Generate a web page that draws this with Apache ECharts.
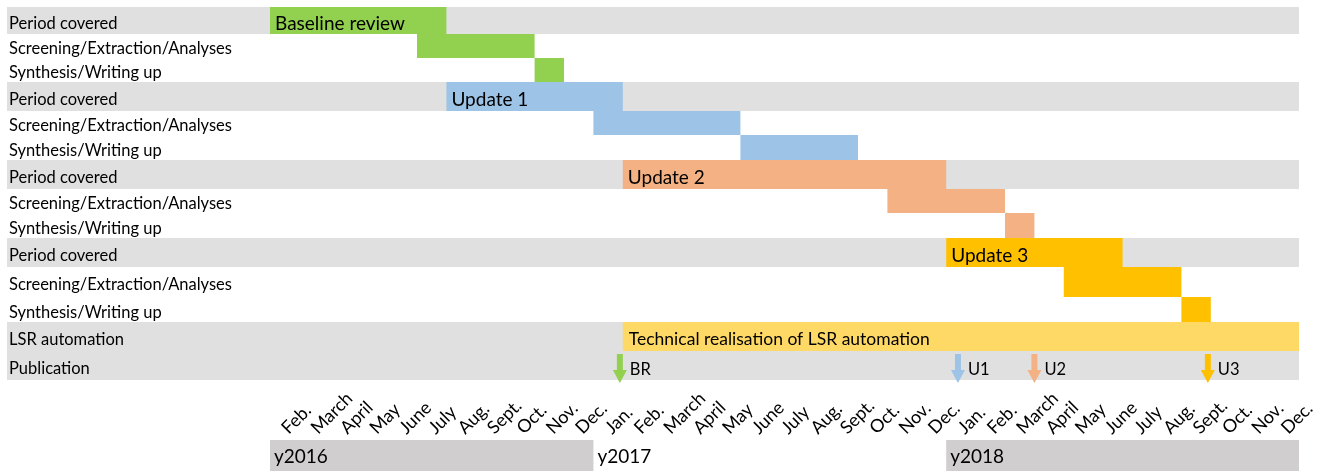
<!DOCTYPE html>
<html>
<head>
<meta charset="utf-8">
<script src="https://cdn.jsdelivr.net/npm/echarts@6/dist/echarts.min.js"></script>
<style>
html,body{margin:0;padding:0;background:#fff;}
#chart{width:1327px;height:472px;}
</style>
</head>
<body>
<div id="chart"></div>
<script>
// ---------- DATA ----------
const rowLabels = ['Period covered','Screening/Extraction/Analyses','Synthesis/Writing up',
  'Period covered','Screening/Extraction/Analyses','Synthesis/Writing up',
  'Period covered','Screening/Extraction/Analyses','Synthesis/Writing up',
  'Period covered','Screening/Extraction/Analyses','Synthesis/Writing up',
  'LSR automation','Publication'];
const months = ['Feb.','March','April','May','June','July','Aug.','Sept.','Oct.','Nov.','Dec.',
  'Jan.','Feb.','March','April','May','June','July','Aug.','Sept.','Oct.','Nov.','Dec.',
  'Jan.','Feb.','March','April','May','June','July','Aug.','Sept.','Oct.','Nov.','Dec.'];
// tasks: month index (0 = Feb. 2016), start/end boundaries
const taskRow   = [0,1,2, 3,4,5, 6,7,8, 9,10,11, 12];
const taskStart = [0,5,9, 6,11,16, 12,21,25, 23,27,31, 12];
const taskEnd   = [6,9,10, 12,16,20, 23,25,26, 29,31,32, 35];
const taskPhase = [0,0,0, 1,1,1, 2,2,2, 3,3,3, 4];
const taskLabel = ['Baseline review','','', 'Update 1','','', 'Update 2','','', 'Update 3','','',
  'Technical realisation of LSR automation'];
const pubLabels = ['BR','U1','U2','U3'];
const pubAt     = [11.9, 23.4, 26.0, 31.9];
const pubPhase  = [0,1,2,3];
const yearLabels = ['y2016','y2017','y2018'];
const yearStart  = [0,11,23];
const yearEnd    = [11,23,35];

// ---------- LAYOUT / STYLE ----------
const rowHeights = [27,24,24,29,24,25,29,24,25,29,30,25,29,29];
const rowShaded  = [1,0,0,1,0,0,1,0,0,1,0,0,1,1];
const yearShaded = [1,0,1];
const phaseColors = ['#92D050','#9DC3E6','#F4B183','#FFC000','#FFD966'];
const FONT = 'Lato, "Open Sans", sans-serif';
const rowTops = [0];
rowHeights.forEach((h,i)=>rowTops.push(rowTops[i]+h));
const totalH = rowTops[rowTops.length-1];

const rowData = rowLabels.map((l,i)=>[i, rowTops[i], rowTops[i+1], rowShaded[i], l]);
const taskData = taskRow.map((r,i)=>[taskStart[i], taskEnd[i], rowTops[r], rowTops[r+1], taskPhase[i], taskLabel[i]]);
const pubRow = rowLabels.length-1;
const pubData = pubAt.map((x,i)=>[x, rowTops[pubRow], rowTops[pubRow+1], pubPhase[i], pubLabels[i]]);
const yearData = yearLabels.map((y,i)=>[yearStart[i], yearEnd[i], yearShaded[i], y]);

const chart = echarts.init(document.getElementById('chart'), null, {renderer:'canvas'});
chart.setOption({
  animation:false,
  backgroundColor:'#fff',
  grid:[
    {left:270, right:28, top:7, height:totalH, containLabel:false, outerBoundsMode:'none'},
    {left:270, right:28, top:440, height:31, containLabel:false, outerBoundsMode:'none'}
  ],
  xAxis:[
    {gridIndex:0, type:'value', min:0, max:35, show:false},
    {gridIndex:1, type:'value', min:0, max:35, show:false},
    {gridIndex:1, type:'category', data:months, position:'top',
      axisLine:{show:false}, axisTick:{show:false}, splitLine:{show:false},
      axisLabel:{rotate:-45, interval:0, margin:9, fontSize:18, color:'#000', fontFamily:FONT}}
  ],
  yAxis:[
    {gridIndex:0, type:'value', min:0, max:totalH, inverse:true, show:false},
    {gridIndex:1, type:'value', min:0, max:1, show:false}
  ],
  series:[
    { // row bands + row labels
      type:'custom', xAxisIndex:0, yAxisIndex:0, z:1, silent:true,
      data:rowData,
      renderItem:function(params, api){
        const cs = params.coordSys;
        const y0 = api.coord([0, api.value(1)])[1];
        const y1 = api.coord([0, api.value(2)])[1];
        const children = [];
        if (api.value(3)) {
          children.push({type:'rect', shape:{x:cs.x-263, y:y0, width:cs.width+263, height:y1-y0},
            style:{fill:'#E0E0E0'}});
        }
        children.push({type:'text', style:{text:rowLabels[api.value(0)], x:cs.x-261, y:(y0+y1)/2+3,
          align:'left', verticalAlign:'middle', fill:'#000', font:'16.5px '+FONT}});
        return {type:'group', children:children};
      }
    },
    { // tasks
      type:'custom', xAxisIndex:0, yAxisIndex:0, z:2, silent:true,
      data:taskData,
      renderItem:function(params, api){
        const p0 = api.coord([api.value(0), api.value(2)]);
        const p1 = api.coord([api.value(1), api.value(3)]);
        const ph = api.value(4);
        const lab = taskLabel[params.dataIndex];
        const children = [{type:'rect', shape:{x:p0[0], y:p0[1], width:p1[0]-p0[0], height:p1[1]-p0[1]},
          style:{fill:phaseColors[ph]}}];
        if (lab) {
          children.push({type:'text', style:{text:lab, x:p0[0]+(ph===4?6:5), y:(p0[1]+p1[1])/2+3,
            align:'left', verticalAlign:'middle', fill:'#000',
            font:(ph===4?'17.5px ':'19px ')+FONT}});
        }
        return {type:'group', children:children};
      }
    },
    { // publication arrows
      type:'custom', xAxisIndex:0, yAxisIndex:0, z:3, silent:true,
      data:pubData,
      renderItem:function(params, api){
        const c = api.coord([api.value(0), api.value(1)]);
        const b = api.coord([api.value(0), api.value(2)]);
        const x = c[0], top = c[1]+3, tip = b[1]+3, hs = tip-13;
        const col = phaseColors[api.value(3)];
        return {type:'group', children:[
          {type:'polygon', shape:{points:[[x-3,top],[x+3,top],[x+3,hs],[x+7,hs],[x,tip],[x-7,hs],[x-3,hs]]},
            style:{fill:col}},
          {type:'text', style:{text:pubLabels[params.dataIndex], x:x+10, y:(c[1]+b[1])/2+4,
            align:'left', verticalAlign:'middle', fill:'#000', font:'16.5px '+FONT}}
        ]};
      }
    },
    { // years
      type:'custom', xAxisIndex:1, yAxisIndex:1, z:2, silent:true,
      data:yearData,
      renderItem:function(params, api){
        const p0 = api.coord([api.value(0), 1]);
        const p1 = api.coord([api.value(1), 0]);
        const children = [];
        if (api.value(2)) {
          children.push({type:'rect', shape:{x:p0[0], y:p0[1], width:p1[0]-p0[0], height:p1[1]-p0[1]},
            style:{fill:'#D0CECE'}});
        }
        children.push({type:'text', style:{text:yearLabels[params.dataIndex], x:p0[0]+4, y:(p0[1]+p1[1])/2+1,
          align:'left', verticalAlign:'middle', fill:'#000', font:'19px '+FONT}});
        return {type:'group', children:children};
      }
    }
  ]
});
</script>
</body>
</html>
